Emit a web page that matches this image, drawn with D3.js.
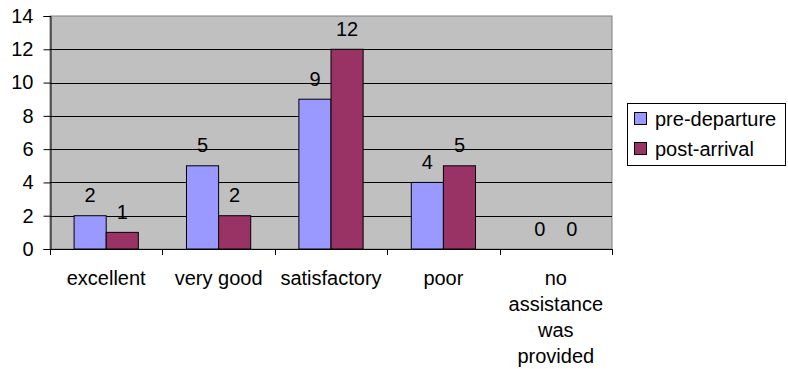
<!DOCTYPE html>
<html>
<head>
<meta charset="utf-8">
<script src="https://cdn.jsdelivr.net/npm/d3@7"></script>
<style>
  html, body { margin: 0; padding: 0; background: #fff; }
  svg { display: block; font-family: "Liberation Sans", Arial, sans-serif; }
</style>
</head>
<body>
<svg id="chart" width="788" height="369"></svg>
<script>
// Ratings of assistance received, before departure and after arrival
const categories = ["excellent", "very good", "satisfactory", "poor", "no assistance was provided"];
const categoryLines = [["excellent"], ["very good"], ["satisfactory"], ["poor"], ["no", "assistance", "was", "provided"]];
const seriesNames = ["pre-departure", "post-arrival"];
const preDeparture = [2, 5, 9, 4, 0];
const postArrival = [1, 2, 12, 5, 0];
const yTicks = [0, 2, 4, 6, 8, 10, 12, 14];
const colors = ["#9999FF", "#993366"];

const svg = d3.select("#chart");
const plot = { left: 50, right: 612, top: 16, bottom: 249 };

const x = d3.scaleBand().domain(categories).range([plot.left, plot.right]).padding(0);
const y = d3.scaleLinear().domain([0, 14]).range([plot.bottom, plot.top]);
// two bars per band with a 150% gap: band = 3.5 bar widths
const barW = x.bandwidth() / 3.5;

// plot background
svg.append("rect")
  .attr("x", plot.left).attr("y", plot.top)
  .attr("width", plot.right - plot.left).attr("height", plot.bottom - plot.top)
  .attr("fill", "#C0C0C0")
  .attr("stroke", "#808080").attr("stroke-width", 1);

// horizontal gridlines
svg.append("g").selectAll("line")
  .data(yTicks.filter(t => t > 0 && t < 14))
  .join("line")
  .attr("x1", plot.left).attr("x2", plot.right)
  .attr("y1", d => Math.round(y(d)) + 0.5).attr("y2", d => Math.round(y(d)) + 0.5)
  .attr("stroke", "#000").attr("stroke-width", 1);

// bars and their value labels
const series = [preDeparture, postArrival];
series.forEach((vals, si) => {
  const rows = categories.map((c, i) => ({ c, v: vals[i] }));
  svg.append("g").selectAll("rect")
    .data(rows.filter(d => d.v > 0))
    .join("rect")
    .attr("x", d => x(d.c) + x.bandwidth() / 2 - barW + si * barW)
    .attr("y", d => y(d.v))
    .attr("width", barW)
    .attr("height", d => y(0) - y(d.v))
    .attr("fill", colors[si])
    .attr("stroke", "#000").attr("stroke-width", 1);

  svg.append("g").selectAll("text")
    .data(rows)
    .join("text")
    .attr("x", d => x(d.c) + x.bandwidth() / 2 - barW / 2 + si * barW)
    .attr("y", d => y(d.v) - 13.5)
    .attr("text-anchor", "middle")
    .attr("font-size", 20)
    .attr("fill", "#000")
    .text(d => d.v);
});

// y axis
const yAxis = d3.axisLeft(y).tickValues(yTicks).tickSize(7).tickPadding(10).tickFormat(d3.format("d"));
const gy = svg.append("g").attr("transform", `translate(${plot.left + 0.5},0)`).call(yAxis);
gy.select(".domain").attr("stroke", "#000");
gy.selectAll(".tick line").attr("stroke", "#000");
gy.selectAll(".tick text").attr("font-size", 20).attr("fill", "#000")
  .attr("font-family", "Liberation Sans, Arial, sans-serif");

// x axis with ticks at category boundaries
svg.append("line")
  .attr("x1", plot.left).attr("x2", plot.right)
  .attr("y1", plot.bottom + 0.5).attr("y2", plot.bottom + 0.5)
  .attr("stroke", "#000");
const bounds = categories.map(c => x(c)).concat([plot.right]);
svg.append("g").selectAll("line")
  .data(bounds)
  .join("line")
  .attr("x1", d => Math.round(d) + 0.5).attr("x2", d => Math.round(d) + 0.5)
  .attr("y1", plot.bottom).attr("y2", plot.bottom + 6)
  .attr("stroke", "#000");

// category labels (last one wraps over four lines)
const xl = svg.append("g");
categories.forEach((c, i) => {
  const cx = x(c) + x.bandwidth() / 2;
  const t = xl.append("text")
    .attr("x", cx)
    .attr("y", 285)
    .attr("text-anchor", "middle")
    .attr("font-size", 20)
    .attr("fill", "#000");
  categoryLines[i].forEach((line, li) => {
    t.append("tspan")
      .attr("x", cx)
      .attr("dy", li === 0 ? 0 : 26)
      .text(line);
  });
});

// legend
const legend = svg.append("g");
legend.append("rect")
  .attr("x", 627.5).attr("y", 103.5)
  .attr("width", 158).attr("height", 62)
  .attr("fill", "#fff").attr("stroke", "#000");
seriesNames.forEach((name, i) => {
  const cy = 119 + i * 30;
  legend.append("rect")
    .attr("x", 634.5).attr("y", cy - 6.5)
    .attr("width", 12).attr("height", 12)
    .attr("fill", colors[i]).attr("stroke", "#000");
  legend.append("text")
    .attr("x", 655).attr("y", cy + 7)
    .attr("font-size", 20).attr("fill", "#000")
    .text(name);
});
</script>
</body>
</html>
